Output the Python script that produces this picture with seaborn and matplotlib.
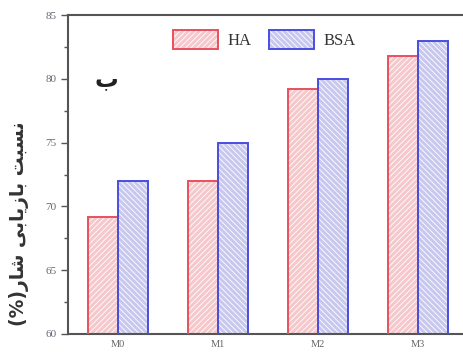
import matplotlib
matplotlib.use("Agg")
import matplotlib.pyplot as plt
import seaborn as sns
import pandas as pd
from matplotlib.patches import Rectangle, Patch
from matplotlib.legend_handler import HandlerTuple

categories = ["M0", "M1", "M2", "M3"]
series_names = ["HA", "BSA"]
ha_values = [69.2, 72.0, 79.2, 81.8]
bsa_values = [72.0, 75.0, 80.0, 83.0]
y_ticks = [60, 65, 70, 75, 80, 85]

# Persian label in visual order with presentation forms: "نسبت بازیابی شار(%)"
ylabel_text = "(%)" + "\uFEAD\uFE8E\uFEB7" + " " + "\uFEF0\uFE91\uFE8E\uFEF3\uFEAF\uFE8E\uFE91" + " " + "\uFE96\uFE92\uFEB4\uFEE7"
panel_text = "\uFE8F"

df = pd.DataFrame({
    "cat": categories * 2,
    "series": ["HA"] * 4 + ["BSA"] * 4,
    "value": ha_values + bsa_values,
})

face = {"HA": "#f5c8cc", "BSA": "#c8c8ee"}
edge = {"HA": "#e8505e", "BSA": "#4a4ee0"}
hatch = {"HA": "//////", "BSA": "\\\\\\\\\\\\"}

sns.set_style("white")
plt.rcParams["font.family"] = ["Liberation Serif", "DejaVu Sans"]
plt.rcParams["hatch.linewidth"] = 0.6

fig = plt.figure(figsize=(4.64, 3.55), dpi=100)
ax = fig.add_axes([0.1466, 0.0592, 0.862, 0.8985])

sns.barplot(data=df, x="cat", y="value", hue="series", hue_order=series_names,
            order=categories, palette=face, width=0.6, gap=0, ax=ax,
            legend=False, errorbar=None)

n = len(categories)
for i, p in enumerate(ax.patches[: 2 * n]):
    s = series_names[i // n]
    p.set_facecolor(face[s])
    p.set_edgecolor("white")
    p.set_hatch(hatch[s])
    p.set_linewidth(0)
    ax.add_patch(Rectangle(p.get_xy(), p.get_width(), p.get_height(), fill=False,
                           edgecolor=edge[s], linewidth=1.4, zorder=3))

ax.set_xlim(-0.5, 3.5)
ax.set_ylim(60, 85)
ax.set_yticks(y_ticks)
ax.set_yticks([62.5, 67.5, 72.5, 77.5, 82.5], minor=True)
ax.tick_params(axis="y", which="major", direction="out", length=5, width=1,
               color="#555555", labelsize=8, labelcolor="#666677", left=True)
ax.tick_params(axis="y", which="minor", direction="out", length=3, width=1,
               color="#555555", left=True)
ax.tick_params(axis="x", length=0, labelsize=7.5, labelcolor="#666666", pad=4)
ax.set_xlabel("")
ax.set_ylabel(ylabel_text, family=["DejaVu Sans"], fontsize=13.5, fontweight="bold",
              color="#333333", va="center")
ax.yaxis.set_label_coords(-0.122, 0.345)

for side in ["left", "top", "bottom", "right"]:
    ax.spines[side].set_color("#555555")
    ax.spines[side].set_linewidth(1.5)

ax.text(0.095, 0.80, panel_text, transform=ax.transAxes, family=["DejaVu Sans"],
        fontsize=17, fontweight="bold", color="#222222", ha="center", va="center")

handles = []
for s in series_names:
    base = Patch(facecolor=face[s], edgecolor="white", hatch=hatch[s], linewidth=0)
    outline = Patch(fill=False, edgecolor=edge[s], linewidth=1.4)
    handles.append((base, outline))
leg = ax.legend(handles, series_names, loc="upper left", bbox_to_anchor=(0.225, 1.0),
                ncol=2, frameon=False, fontsize=12, handlelength=2.7, handleheight=1.4,
                columnspacing=1.0, handletextpad=0.6,
                handler_map={tuple: HandlerTuple(ndivide=1, pad=0)})
for t in leg.get_texts():
    t.set_color("#333333")

fig.savefig("out.png", dpi=100)
